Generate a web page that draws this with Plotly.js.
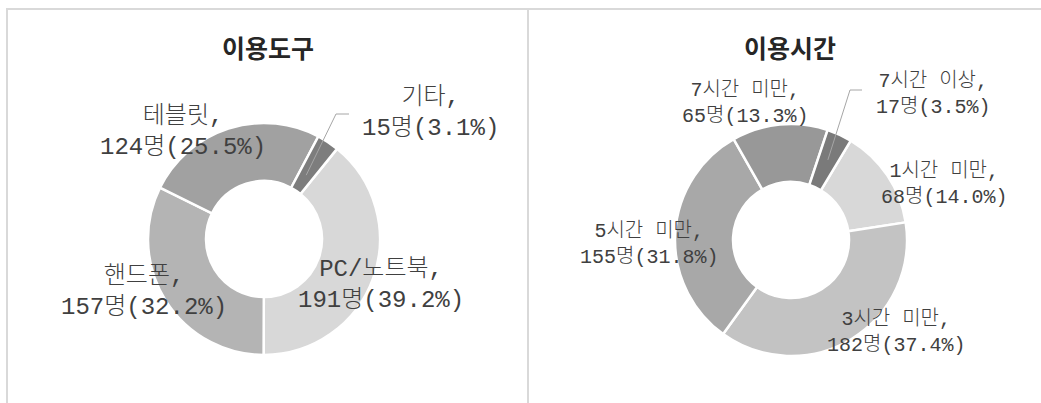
<!DOCTYPE html>
<html>
<head>
<meta charset="utf-8">
<script src="https://cdn.plot.ly/plotly-3.0.1.min.js"></script>
<style>
  html, body { margin: 0; padding: 0; background: #ffffff; }
  #chart { width: 1041px; height: 403px; }
</style>
</head>
<body>
<div id="chart"></div>
<script>
// ---------- data ----------
const toolTitle = "이용도구";
const toolLabels = ["PC/노트북", "핸드폰", "테블릿", "기타"];
const toolValues = [191, 157, 124, 15];

const timeTitle = "이용시간";
const timeLabels = ["1시간 미만", "3시간 미만", "5시간 미만", "7시간 미만", "7시간 이상"];
const timeValues = [68, 182, 155, 65, 17];

const unit = "명";

// ---------- layout (pixel positions) ----------
const W = 1041, H = 403;
const px = x => x / W;
const py = y => 1 - y / H;

const toolColors = ["#d8d8d8", "#b4b4b4", "#a1a1a1", "#7d7d7d"];
const timeColors = ["#d8d8d8", "#c3c3c3", "#a8a8a8", "#989898", "#7a7a7a"];

const charts = [
  {
    title: toolTitle, labels: toolLabels, values: toolValues, colors: toolColors,
    cx: 264, cy: 239, r: 116, rotation: 39, titlePos: [268, 47], fontSize: 24,
    labelPos: [[381, 285], [144, 292], [183, 132], [430, 113]],
    leader: { index: 3, startR: 0.66, bend: [336, 114], endX: 349 }
  },
  {
    title: timeTitle, labels: timeLabels, values: timeValues, colors: timeColors,
    cx: 791, cy: 240, r: 116, rotation: 31, titlePos: [790, 47], fontSize: 20,
    labelPos: [[944, 184], [896, 332], [649, 244], [745, 103], [933, 94]],
    leader: { index: 4, startR: 0.76, bend: [850, 90], endX: 862 }
  }
];

const textColor = "#404040";
const labelFont = "Liberation Mono, 'Noto Sans CJK KR', monospace";
const titleFont = "'Noto Sans CJK KR', sans-serif";

const traces = [];
const annotations = [];
const shapes = [];

charts.forEach(c => {
  const total = c.values.reduce((a, b) => a + b, 0);
  traces.push({
    type: "pie",
    labels: c.labels,
    values: c.values,
    sort: false,
    direction: "clockwise",
    rotation: c.rotation,
    hole: 0.5,
    textinfo: "none",
    hoverinfo: "label+value+percent",
    marker: { colors: c.colors, line: { color: "#ffffff", width: 2.5 } },
    domain: { x: [px(c.cx - c.r), px(c.cx + c.r)], y: [py(c.cy + c.r), py(c.cy - c.r)] },
    showlegend: false
  });

  annotations.push({
    xref: "paper", yref: "paper", x: px(c.titlePos[0]), y: py(c.titlePos[1]),
    xanchor: "center", yanchor: "middle", showarrow: false,
    text: "<b>" + c.title + "</b>",
    font: { family: titleFont, size: 25, color: "#262626" }
  });

  c.labels.forEach((lab, i) => {
    const pct = (c.values[i] / total * 100).toFixed(1);
    annotations.push({
      xref: "paper", yref: "paper", x: px(c.labelPos[i][0]), y: py(c.labelPos[i][1]),
      xanchor: "center", yanchor: "middle", showarrow: false, align: "center",
      text: lab + ",<br>" + c.values[i] + unit + "(" + pct + "%)",
      font: { family: labelFont, size: c.fontSize, color: textColor, weight: 300 }
    });
  });

  // leader line for the small slice, starting at its mid angle
  const L = c.leader;
  let cum = 0;
  for (let i = 0; i < L.index; i++) cum += c.values[i];
  const mid = (c.rotation + (cum + c.values[L.index] / 2) / total * 360) * Math.PI / 180;
  const sx = c.cx + c.r * L.startR * Math.sin(mid);
  const sy = c.cy - c.r * L.startR * Math.cos(mid);
  shapes.push({
    type: "path", xref: "paper", yref: "paper",
    path: `M ${px(sx)} ${py(sy)} L ${px(L.bend[0])} ${py(L.bend[1])} L ${px(L.endX)} ${py(L.bend[1])}`,
    line: { color: "#a6a6a6", width: 1 }
  });
});

// panel borders
const border = { color: "#d9d9d9", width: 2 };
shapes.push({ type: "line", xref: "paper", yref: "paper", x0: px(6), x1: 1, y0: py(9), y1: py(9), line: border });
shapes.push({ type: "line", xref: "paper", yref: "paper", x0: px(7), x1: px(7), y0: py(9), y1: 0, line: border });
shapes.push({ type: "line", xref: "paper", yref: "paper", x0: px(528), x1: px(528), y0: py(9), y1: 0, line: border });

const layout = {
  width: W, height: H,
  margin: { l: 0, r: 0, t: 0, b: 0 },
  paper_bgcolor: "#ffffff",
  plot_bgcolor: "#ffffff",
  showlegend: false,
  annotations: annotations,
  shapes: shapes
};

Plotly.newPlot("chart", traces, layout, { displayModeBar: false, staticPlot: true });
</script>
</body>
</html>
